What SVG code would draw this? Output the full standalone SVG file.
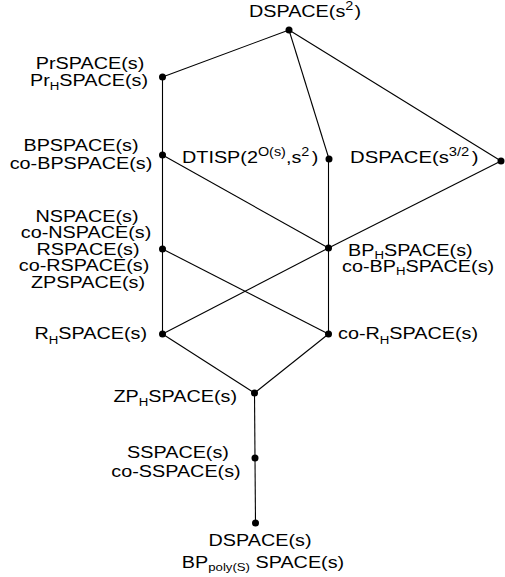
<svg xmlns="http://www.w3.org/2000/svg" width="505" height="577" viewBox="0 0 505 577">
  <style>
    .edge { stroke: #000; stroke-width: 1.1; fill: none; }
    .dot { fill: #000; }
    text { font-family: "Liberation Sans", Arial, Helvetica, sans-serif; font-size: 16.5px; fill: #000; }
    .sub { font-size: 11px; }
    .sup { font-size: 12px; }
  </style>
  <rect width="505" height="577" fill="#fff"/>

  <!-- connectors of the inclusion lattice -->
  <g id="edges">
    <line class="edge" x1="289" y1="30" x2="162.5" y2="77"/>
    <line class="edge" x1="289" y1="30" x2="329" y2="159"/>
    <line class="edge" x1="289" y1="30" x2="501" y2="161"/>
    <line class="edge" x1="162.5" y1="77" x2="162.5" y2="334"/>
    <line class="edge" x1="162.5" y1="155" x2="328.5" y2="248"/>
    <line class="edge" x1="328.5" y1="159" x2="328.5" y2="334"/>
    <line class="edge" x1="501" y1="161" x2="328.5" y2="248"/>
    <line class="edge" x1="328.5" y1="248" x2="162.5" y2="334"/>
    <line class="edge" x1="162.5" y1="249" x2="328.5" y2="334"/>
    <line class="edge" x1="162.5" y1="334" x2="254.5" y2="393"/>
    <line class="edge" x1="328.5" y1="334" x2="254.5" y2="393"/>
    <line class="edge" x1="254.5" y1="393" x2="255.5" y2="523"/>
  </g>

  <g id="n-dspace-s2">
    <circle class="dot" cx="289" cy="30" r="3.5"/>
    <text transform="translate(305,17) scale(1.2,1)" text-anchor="middle">DSPACE(s<tspan class="sup" dy="-7">2</tspan><tspan dy="7" dx="1">)</tspan></text>
  </g>

  <g id="n-prspace">
    <circle class="dot" cx="162.5" cy="77" r="3.5"/>
    <text transform="translate(90,69) scale(1.2,1)" text-anchor="middle">PrSPACE(s)</text>
    <text transform="translate(89,86) scale(1.2,1)" text-anchor="middle">Pr<tspan class="sub" dy="4">H</tspan><tspan dy="-4">SPACE(s)</tspan></text>
  </g>

  <g id="n-bpspace">
    <circle class="dot" cx="162.5" cy="155" r="3.5"/>
    <text transform="translate(81,151) scale(1.2,1)" text-anchor="middle">BPSPACE(s)</text>
    <text transform="translate(81,169) scale(1.2,1)" text-anchor="middle">co-BPSPACE(s)</text>
  </g>

  <g id="n-dtisp">
    <circle class="dot" cx="329" cy="159" r="3.5"/>
    <text transform="translate(182,163) scale(1.2,1)">DTISP(2<tspan class="sup" dy="-7">O(s)</tspan><tspan dy="7">,s</tspan><tspan class="sup" dy="-7">2</tspan><tspan dy="7" dx="2">)</tspan></text>
  </g>

  <g id="n-dspace-s32">
    <circle class="dot" cx="501" cy="161" r="3.5"/>
    <text transform="translate(350,163) scale(1.23,1)">DSPACE(s<tspan class="sup" dy="-7">3/2</tspan><tspan dy="7" dx="2">)</tspan></text>
  </g>

  <g id="n-nspace">
    <circle class="dot" cx="162.5" cy="249" r="3.5"/>
    <text transform="translate(87,222) scale(1.2,1)" text-anchor="middle">NSPACE(s)</text>
    <text transform="translate(86,238) scale(1.2,1)" text-anchor="middle">co-NSPACE(s)</text>
    <text transform="translate(88,255) scale(1.2,1)" text-anchor="middle">RSPACE(s)</text>
    <text transform="translate(84,271) scale(1.2,1)" text-anchor="middle">co-RSPACE(s)</text>
    <text transform="translate(88,288) scale(1.2,1)" text-anchor="middle">ZPSPACE(s)</text>
  </g>

  <g id="n-bphspace">
    <circle class="dot" cx="328.5" cy="248" r="3.5"/>
    <text transform="translate(348,256) scale(1.2,1)">BP<tspan class="sub" dy="2.5">H</tspan><tspan dy="-2.5">SPACE(s)</tspan></text>
    <text transform="translate(342,272) scale(1.2,1)">co-BP<tspan class="sub" dy="2.5">H</tspan><tspan dy="-2.5">SPACE(s)</tspan></text>
  </g>

  <g id="n-rhspace">
    <circle class="dot" cx="162.5" cy="334" r="3.5"/>
    <text transform="translate(147,339) scale(1.2,1)" text-anchor="end">R<tspan class="sub" dy="5">H</tspan><tspan dy="-5">SPACE(s)</tspan></text>
  </g>

  <g id="n-corhspace">
    <circle class="dot" cx="328.5" cy="334" r="3.5"/>
    <text transform="translate(338,339) scale(1.2,1)">co-R<tspan class="sub" dy="5">H</tspan><tspan dy="-5">SPACE(s)</tspan></text>
  </g>

  <g id="n-zphspace">
    <circle class="dot" cx="254.5" cy="393" r="3.5"/>
    <text transform="translate(237,402) scale(1.2,1)" text-anchor="end">ZP<tspan class="sub" dy="4">H</tspan><tspan dy="-4">SPACE(s)</tspan></text>
  </g>

  <g id="n-sspace">
    <circle class="dot" cx="255" cy="458" r="3.5"/>
    <text transform="translate(178,458) scale(1.2,1)" text-anchor="middle">SSPACE(s)</text>
    <text transform="translate(176,477) scale(1.2,1)" text-anchor="middle">co-SSPACE(s)</text>
  </g>

  <g id="n-dspace-s">
    <circle class="dot" cx="255.5" cy="523" r="3.5"/>
    <text transform="translate(260,546) scale(1.2,1)" text-anchor="middle">DSPACE(s)</text>
    <text transform="translate(263,568) scale(1.2,1)" text-anchor="middle">BP<tspan class="sub" dy="3">poly(S)</tspan><tspan dy="-3"> SPACE(s)</tspan></text>
  </g>
</svg>
